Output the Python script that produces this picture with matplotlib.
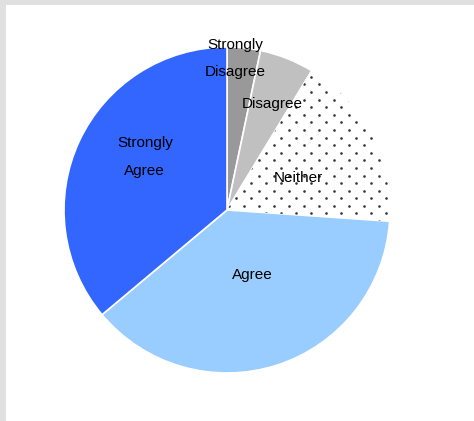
import matplotlib
matplotlib.use("Agg")
import matplotlib.pyplot as plt
from matplotlib.patches import Rectangle
import numpy as np

plt.rcParams['font.family'] = ['Liberation Sans', 'DejaVu Sans']

categories = ["Strongly\nDisagree", "Disagree", "Neither", "Agree", "Strongly\nAgree"]
shares = [3.3, 5.4, 17.4, 37.8, 36.1]
colors = ["#999999", "#c0c0c0", "#ffffff", "#99ccff", "#3366ff"]
label_radius = [0.93, 0.71, 0.48, 0.43, 0.60]
label_shift = [-2.7, 1.5, 3.3, -3.0, 7.8]  # degrees, clockwise

fig = plt.figure(figsize=(4.74, 4.21), dpi=100)
fig.patch.set_facecolor("white")
fig.patches.append(Rectangle((0, 1 - 5 / 421), 1, 5 / 421, transform=fig.transFigure,
                             facecolor="#e0e0e0", edgecolor="none", zorder=0))
fig.patches.append(Rectangle((0, 0), 6 / 474, 1, transform=fig.transFigure,
                             facecolor="#e0e0e0", edgecolor="none", zorder=0))

R = 163
cx, cy = 227, 210
ax = fig.add_axes([(cx - R) / 474, (421 - cy - R) / 421, 2 * R / 474, 2 * R / 421])

wedges, _ = ax.pie(shares, colors=colors, startangle=90, counterclock=False, radius=1,
                   wedgeprops=dict(edgecolor="white", linewidth=1.2))
ax.set_xlim(-1, 1)
ax.set_ylim(-1, 1)
ax.set_aspect("equal")
ax.axis("off")

# staggered dot pattern filling the neutral slice
step_x, step_y = 0.092, 0.0466
pts = []
for i, y in enumerate(np.arange(-1.0, 1.0, step_y)):
    off = (step_x / 2) * (i % 2)
    for x in np.arange(-1.0 + off, 1.0, step_x):
        pts.append((x, y))
pts = np.array(pts)
dots = ax.scatter(pts[:, 0], pts[:, 1], s=3.5, color="#333333", linewidths=0, zorder=3)
dots.set_clip_path(wedges[2])

for wd, lab, r, sh in zip(wedges, categories, label_radius, label_shift):
    mid = np.deg2rad((wd.theta1 + wd.theta2) / 2 - sh)
    ax.text(r * np.cos(mid), r * np.sin(mid), lab, ha="center", va="center",
            fontsize=11, linespacing=2.2, color="black", zorder=4)

fig.savefig("out.png", dpi=100)
